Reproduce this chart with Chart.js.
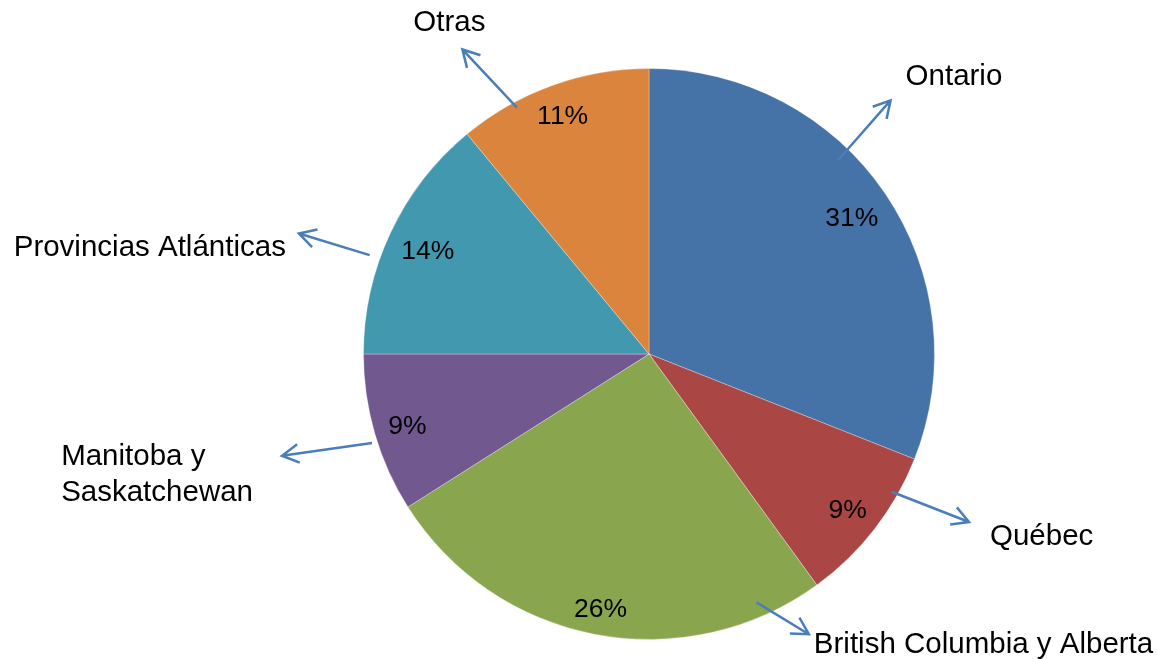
<!DOCTYPE html>
<html>
<head>
<meta charset="utf-8">
<script src="https://cdn.jsdelivr.net/npm/chart.js@4"></script>
<style>
  html, body { margin: 0; padding: 0; background: #fff; }
  #wrap { width: 1157px; height: 659px; position: relative; }
</style>
</head>
<body>
<div id="wrap"><canvas id="pie"></canvas></div>
<script>
const categories = ['Ontario', 'Québec', 'British Columbia y Alberta', 'Manitoba y\nSaskatchewan', 'Provincias Atlánticas', 'Otras'];
const shares = [31, 9, 26, 9, 14, 11];
const sliceColors = ['#4572A7', '#AA4643', '#89A54E', '#71588F', '#4198AF', '#DB843D'];

// callout arrows: angles in degrees clockwise from 12 o'clock, radii as fraction of pie radius
const callouts = [
  {a0: 44.3, r0: 0.948, a1: 43.6, r1: 1.227, dx: 15, dy: -15, align: 'left'},
  {a0: 119.6, r0: 0.977, a1: 117.7, r1: 1.266, dx: 21, dy: 23, align: 'left'},
  {a0: 156.6, r0: 0.948, a1: 150.3, r1: 1.130, dx: 5, dy: 19, align: 'left'},
  {a0: 252.2, r0: 1.019, a1: 254.5, r1: 1.334, dx: -29, dy: 9, align: 'block-right'},
  {a0: 289.5, r0: 1.038, a1: 289.0, r1: 1.297, dx: -13, dy: 23, align: 'block-right'},
  {a0: 331.8, r0: 0.979, a1: 328.5, r1: 1.251, dx: -13, dy: -18, align: 'center'},
];

const FONT = '"Liberation Sans", Arial, sans-serif';

const pieLabels = {
  id: 'pieLabels',
  afterDatasetsDraw(chart) {
    const ctx = chart.ctx;
    const meta = chart.getDatasetMeta(0);
    const data = chart.data.datasets[0].data;
    const total = data.reduce((a, b) => a + b, 0);
    ctx.save();

    // percentages inside the slices
    const pctSize = 26.5;
    const capH = pctSize * 0.716;
    ctx.font = pctSize + 'px ' + FONT;
    ctx.fillStyle = '#000';
    ctx.textAlign = 'center';
    ctx.textBaseline = 'alphabetic';
    meta.data.forEach((arc, i) => {
      const p = arc.getProps(['x', 'y', 'startAngle', 'endAngle', 'outerRadius'], true);
      const mid = (p.startAngle + p.endAngle) / 2;
      const txt = Math.round(data[i] / total * 100) + '%';
      const hw = ctx.measureText(txt).width / 2;
      const ux = Math.cos(mid), uy = Math.sin(mid);
      const r = p.outerRadius - 13 - hw * Math.abs(ux) - capH / 2 * Math.abs(uy);
      ctx.fillText(txt, p.x + r * ux, p.y + r * uy + capH / 2);
    });

    // arrows + category names
    const lblSize = 29.5;
    const lineH = 36;
    ctx.strokeStyle = '#4A7EBB';
    ctx.lineWidth = 2.5;
    ctx.lineCap = 'butt';
    meta.data.forEach((arc, i) => {
      const c = callouts[i];
      const p = arc.getProps(['x', 'y', 'outerRadius'], true);
      const R = p.outerRadius;
      const pt = (deg, f) => {
        const a = (deg - 90) * Math.PI / 180;
        return [p.x + f * R * Math.cos(a), p.y + f * R * Math.sin(a)];
      };
      const [x0, y0] = pt(c.a0, c.r0);
      const [x1, y1] = pt(c.a1, c.r1);
      ctx.beginPath();
      ctx.moveTo(x0, y0);
      ctx.lineTo(x1, y1);
      const back = Math.atan2(y0 - y1, x0 - x1);
      const wing = 19, spread = 29 * Math.PI / 180;
      ctx.moveTo(x1 + wing * Math.cos(back + spread), y1 + wing * Math.sin(back + spread));
      ctx.lineTo(x1, y1);
      ctx.lineTo(x1 + wing * Math.cos(back - spread), y1 + wing * Math.sin(back - spread));
      ctx.stroke();

      ctx.font = lblSize + 'px ' + FONT;
      ctx.fillStyle = '#000';
      const lines = chart.data.labels[i].split('\n');
      const maxW = Math.max(...lines.map(l => ctx.measureText(l).width));
      let tx = x1 + c.dx;
      ctx.textAlign = 'left';
      if (c.align === 'block-right') tx = x1 + c.dx - maxW;
      if (c.align === 'center') ctx.textAlign = 'center';
      lines.forEach((l, k) => ctx.fillText(l, tx, y1 + c.dy + k * lineH));
    });
    ctx.restore();
  }
};

new Chart(document.getElementById('pie'), {
  type: 'pie',
  data: {
    labels: categories,
    datasets: [{
      data: shares,
      backgroundColor: sliceColors,
      borderColor: 'rgba(255,255,255,0.3)',
      borderWidth: 1,
      hoverOffset: 0,
    }]
  },
  options: {
    responsive: true,
    maintainAspectRatio: false,
    animation: false,
    layout: {padding: {left: 363, right: 222, top: 68, bottom: 19}},
    plugins: {
      legend: {display: false},
      tooltip: {enabled: false},
    },
  },
  plugins: [pieLabels]
});
</script>
</body>
</html>
